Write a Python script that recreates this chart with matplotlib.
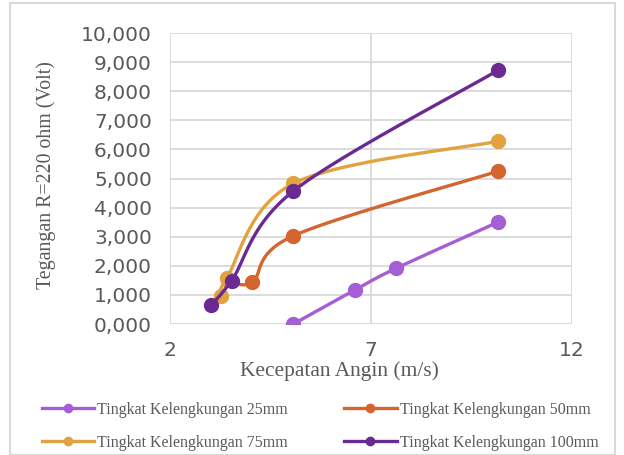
import numpy as np
import matplotlib
matplotlib.use("Agg")
import matplotlib.pyplot as plt
from matplotlib.ticker import FuncFormatter
from matplotlib.patches import Rectangle

# ---- data ----
labels = ["Tingkat Kelengkungan 25mm", "Tingkat Kelengkungan 50mm",
          "Tingkat Kelengkungan 75mm", "Tingkat Kelengkungan 100mm"]
x25 = [5.07, 6.6, 7.62, 10.16]
y25 = [0.0, 1.17, 1.91, 3.50]
x50 = [3.45, 4.05, 5.07, 10.16]
y50 = [1.50, 1.45, 3.03, 5.25]
x75 = [3.28, 3.41, 5.07, 10.16]
y75 = [0.97, 1.57, 4.83, 6.28]
x100 = [3.02, 3.53, 5.07, 10.16]
y100 = [0.66, 1.49, 4.57, 8.72]
colors = ["#A45FD6", "#D4652F", "#E2A23F", "#6A2A92"]
xticks = [2, 7, 12]
yticks = list(range(0, 11))

fig = plt.figure(figsize=(6.24, 4.55), dpi=100)
fig.patch.set_facecolor("white")
fig.add_artist(Rectangle((10/624, 0.0), 605/624, 452/455, transform=fig.transFigure,
                         fill=False, edgecolor="#D9D9D9", linewidth=1.5))

ax = fig.add_axes([170/624, 1 - 324/455, 402/624, 291/455])
XMIN, XMAX, YMIN, YMAX = 2, 12, 0, 10
W, H = 402.0, 291.0


def smooth(xs, ys, n=40):
    # Excel-like smoothed line: Catmull-Rom Bezier in display-proportional space
    px = (np.asarray(xs) - XMIN) / (XMAX - XMIN) * W
    py = (np.asarray(ys) - YMIN) / (YMAX - YMIN) * H
    P = np.column_stack([px, py])
    out = [P[0]]
    m = len(P)
    for i in range(m - 1):
        p0 = P[i - 1] if i > 0 else P[i]
        p1 = P[i]
        p2 = P[i + 1]
        p3 = P[i + 2] if i + 2 < m else P[i + 1]
        c1 = p1 + (p2 - p0) / 6.0
        c2 = p2 - (p3 - p1) / 6.0
        t = np.linspace(0, 1, n)[1:, None]
        seg = ((1 - t) ** 3) * p1 + 3 * ((1 - t) ** 2) * t * c1 + 3 * (1 - t) * t ** 2 * c2 + t ** 3 * p2
        out.extend(seg)
    out = np.array(out)
    return out[:, 0] / W * (XMAX - XMIN) + XMIN, out[:, 1] / H * (YMAX - YMIN) + YMIN


series = [(x25, y25), (x50, y50), (x75, y75), (x100, y100)]
handles = []
for k, ((xs, ys), c, lab) in enumerate(zip(series, colors, labels)):
    sx, sy = smooth(xs, ys)
    ax.plot(sx, sy, color=c, linewidth=2.4, solid_capstyle="round", zorder=3 + 2 * k)
    ax.plot(xs, ys, linestyle="none", marker="o", markersize=10, color=c, zorder=3 + 2 * k + 1)
    h, = ax.plot([], [], color=c, linewidth=2.4, marker="o", markersize=6, label=lab)
    handles.append(h)

ax.set_xlim(XMIN, XMAX)
ax.set_ylim(YMIN, YMAX)
ax.set_xticks(xticks)
ax.set_yticks(yticks)
ax.yaxis.set_major_formatter(FuncFormatter(lambda v, p: f"{int(v)},000"))
ax.grid(True, color="#D9D9D9", linewidth=1.3, zorder=0)
ax.set_axisbelow(True)
for s in ax.spines.values():
    s.set_visible(False)
ax.tick_params(axis="y", length=0, labelsize=14.5, labelcolor="#595959", pad=13)
ax.tick_params(axis="x", length=0, labelsize=14.5, labelcolor="#595959", pad=12)
for t in ax.get_xticklabels() + ax.get_yticklabels():
    t.set_fontfamily("DejaVu Sans")

ax.set_xlabel("Kecepatan Angin (m/s)", family="Liberation Serif", fontsize=15.4,
              color="#595959")
ax.xaxis.set_label_coords((339 - 170) / 402, (324 - 361) / 291)
ax.set_ylabel("Tegangan R=220 ohm (Volt)", family="Liberation Serif", fontsize=14.3,
              color="#595959")
ax.yaxis.set_label_coords((56 - 170) / 402, (324 - 175) / 291)

order = [0, 2, 1, 3]
fig.legend(handles=[handles[i] for i in order], loc="lower center",
           bbox_to_anchor=(0.513, -0.023), ncol=2,
           frameon=False, prop={"family": "Liberation Serif", "size": 11.5},
           labelcolor="#595959", handlelength=3.3, handletextpad=0.2,
           columnspacing=3.5, labelspacing=1.1)

fig.savefig("out.png", dpi=100)
